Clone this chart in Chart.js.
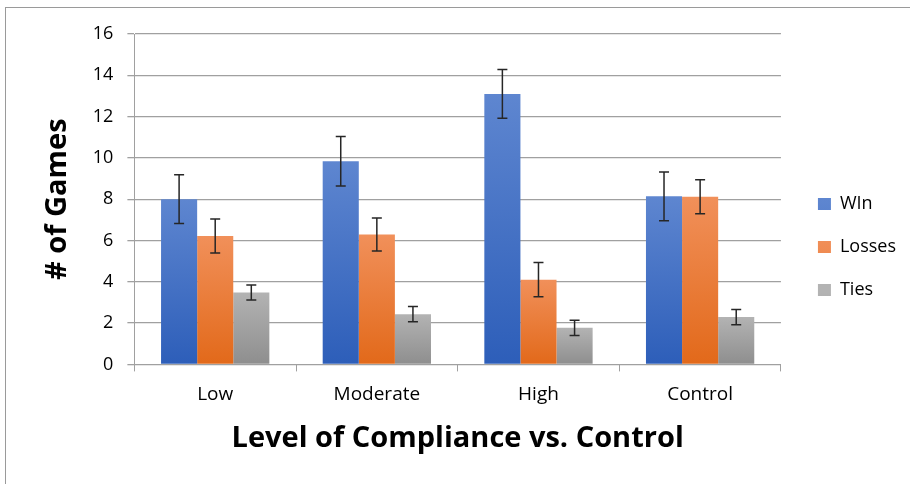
<!DOCTYPE html>
<html>
<head>
<meta charset="utf-8">
<script src="https://cdn.jsdelivr.net/npm/chart.js@4.4.1/dist/chart.umd.min.js"></script>
<style>
  html, body { margin: 0; padding: 0; background: #fff; }
  #wrap { position: relative; width: 910px; height: 484px; }
  #frame { position: absolute; left: 5px; top: 7px; right: 0; bottom: 0;
           border-top: 1px solid #9a9a9a; border-left: 1px solid #9a9a9a; }
  canvas { position: absolute; left: 0; top: 0; }
</style>
</head>
<body>
<div id="wrap">
  <div id="frame"></div>
  <canvas id="chart" width="910" height="484"></canvas>
</div>
<script>
/* ─── Data ───────────────────────────────────────────────────────────────── */
const categories = ['Low', 'Moderate', 'High', 'Control'];
const winValues  = [8.0, 9.84, 13.1, 8.14];
const lossValues = [6.22, 6.29, 4.1, 8.12];
const tieValues  = [3.48, 2.43, 1.77, 2.29];
const winErr     = [1.18, 1.2, 1.18, 1.18];
const lossErr    = [0.82, 0.8, 0.83, 0.82];
const tieErr     = [0.36, 0.37, 0.37, 0.37];
const yTicks     = [0, 2, 4, 6, 8, 10, 12, 14, 16];

const FONT = '"Open Sans", Lato, sans-serif';

/* ─── Per-bar vertical gradient, lighter at the top ─────────────────────── */
function barFill(light, dark) {
  return ctx => {
    if (ctx.type !== 'data') return dark;
    const y = ctx.chart.scales.y;
    if (!y) return dark;
    const top = y.getPixelForValue(ctx.raw);
    const bottom = y.getPixelForValue(0);
    if (!isFinite(top) || !isFinite(bottom) || top === bottom) return dark;
    const g = ctx.chart.ctx.createLinearGradient(0, top, 0, bottom);
    g.addColorStop(0, light);
    g.addColorStop(1, dark);
    return g;
  };
}

/* ─── Error bars plugin ──────────────────────────────────────────────────── */
const errorBars = {
  id: 'errorBars',
  afterDatasetsDraw(chart) {
    const { ctx, scales: { y } } = chart;
    ctx.save();
    ctx.strokeStyle = '#262626';
    ctx.lineWidth = 1.5;
    chart.data.datasets.forEach((ds, i) => {
      const meta = chart.getDatasetMeta(i);
      meta.data.forEach((bar, j) => {
        const v = ds.data[j], e = ds.errors[j];
        const yt = y.getPixelForValue(v + e);
        const yb = y.getPixelForValue(v - e);
        ctx.beginPath();
        ctx.moveTo(bar.x, yt); ctx.lineTo(bar.x, yb);
        ctx.moveTo(bar.x - 5, yt); ctx.lineTo(bar.x + 5, yt);
        ctx.moveTo(bar.x - 5, yb); ctx.lineTo(bar.x + 5, yb);
        ctx.stroke();
      });
    });
    ctx.restore();
  }
};

/* ─── Widen the legend box and push its items away from the plot ────────── */
const legendGap = {
  id: 'legendGap',
  beforeInit(chart) {
    const fit = chart.legend.fit;
    chart.legend.fit = function () {
      fit.call(this);
      this.width += 16;
    };
  },
  afterLayout(chart) {
    chart.legend.left += 12;
    chart.legend.right += 12;
  }
};

new Chart(document.getElementById('chart'), {
  type: 'bar',
  data: {
    labels: categories,
    datasets: [
      { label: 'WIn',    data: winValues,  errors: winErr,  backgroundColor: barFill('#5e86d0', '#2d5eb9') },
      { label: 'Losses', data: lossValues, errors: lossErr, backgroundColor: barFill('#f1905a', '#e2691a') },
      { label: 'Ties',   data: tieValues,  errors: tieErr,  backgroundColor: barFill('#b3b3b3', '#8e8e8e') }
    ]
  },
  options: {
    responsive: false,
    animation: false,
    datasets: { bar: { barPercentage: 1, categoryPercentage: 0.67 } },
    layout: { padding: { left: 36, right: 0, top: 34, bottom: 24 } },
    plugins: {
      tooltip: { enabled: false },
      legend: {
        position: 'right',
        labels: {
          boxWidth: 13, boxHeight: 12, padding: 25,
          color: '#000', font: { family: FONT, size: 18 }
        }
      }
    },
    scales: {
      x: {
        grid: { drawOnChartArea: false, drawTicks: true, tickLength: 7, color: '#a0a0a0' },
        border: { color: '#a0a0a0' },
        ticks: { color: '#000', font: { family: FONT, size: 19 }, padding: 12 },
        title: { display: true, text: 'Level of Compliance vs. Control', color: '#000',
                 font: { family: FONT, size: 29, weight: 'bold' }, padding: { top: 3 } }
      },
      y: {
        min: 0, max: 16,
        afterBuildTicks: s => { s.ticks = yTicks.map(v => ({ value: v })); },
        grid: { color: '#a0a0a0', lineWidth: 1.3, tickLength: 7 },
        border: { color: '#a0a0a0' },
        ticks: { color: '#000', font: { family: FONT, size: 18 }, padding: 14 },
        title: { display: true, text: '# of Games', color: '#000',
                 font: { family: FONT, size: 29, weight: 'bold' }, padding: { bottom: 4 } }
      }
    }
  },
  plugins: [errorBars, legendGap]
});
</script>
</body>
</html>
